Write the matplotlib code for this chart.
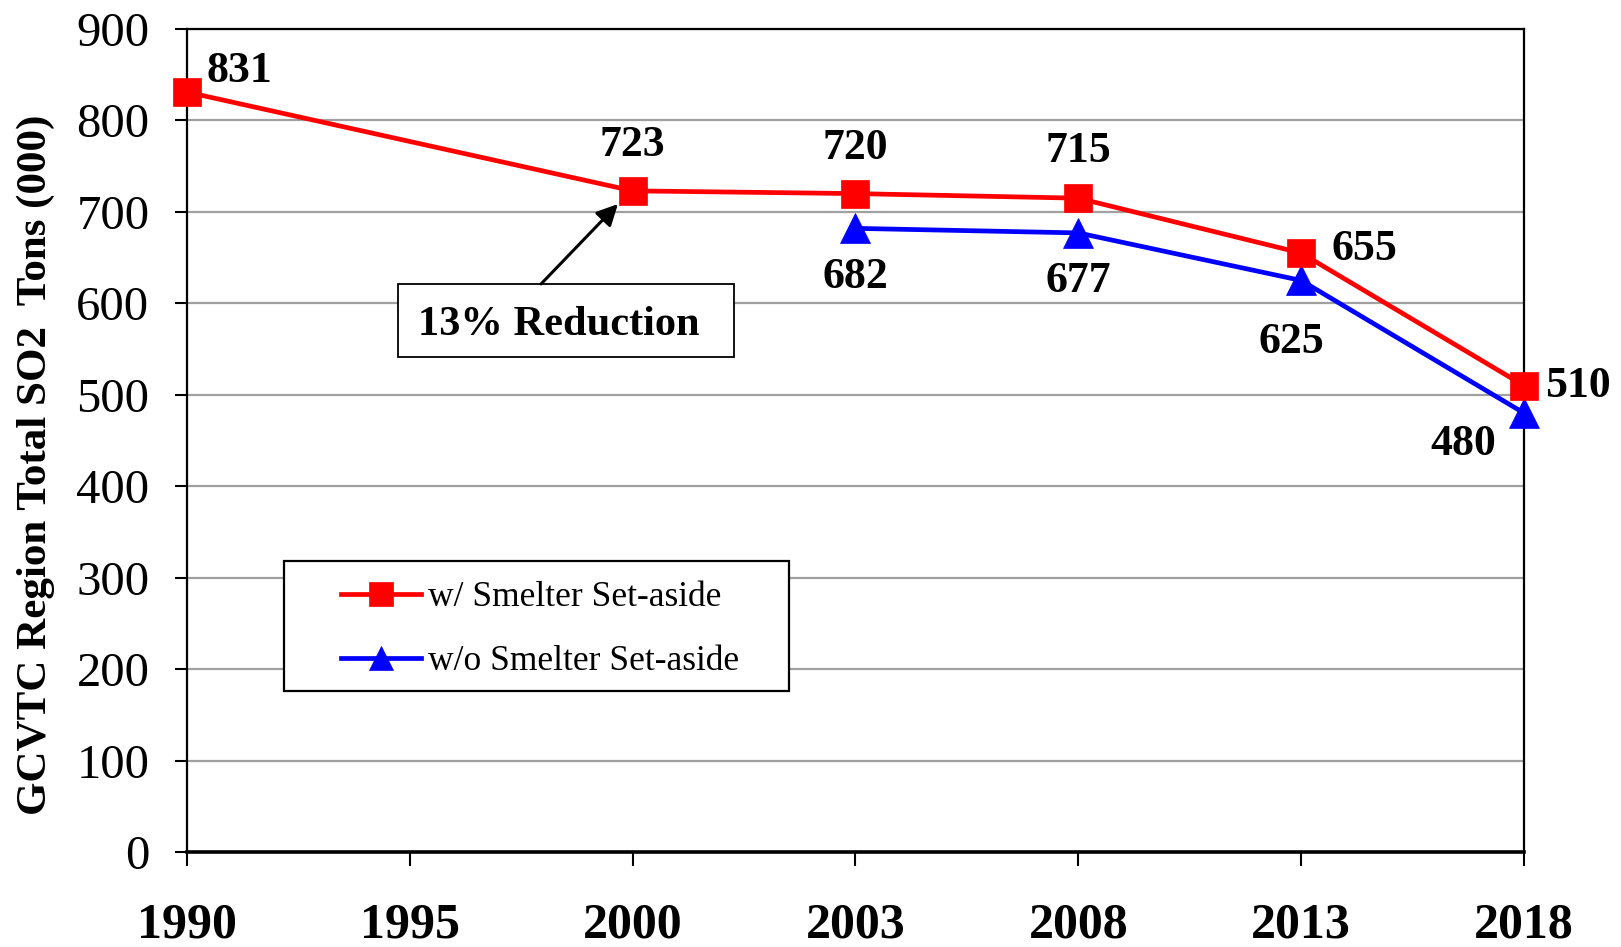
import matplotlib
matplotlib.use("Agg")
import matplotlib.pyplot as plt
from matplotlib.patches import Rectangle

years = ["1990", "1995", "2000", "2003", "2008", "2013", "2018"]
with_years = ["1990", "2000", "2003", "2008", "2013", "2018"]
with_vals = [831, 723, 720, 715, 655, 510]
without_years = ["2003", "2008", "2013", "2018"]
without_vals = [682, 677, 625, 480]
yticks = [0, 100, 200, 300, 400, 500, 600, 700, 800, 900]

plt.rcParams['font.family'] = ['Liberation Serif', 'DejaVu Serif']

fig = plt.figure(figsize=(16.21, 9.47), dpi=100)
ax = fig.add_axes([187/1621, 1-852/947, (1524-187)/1621, (852-29)/947])

xi = {y: i for i, y in enumerate(years)}
xw = [xi[y] for y in with_years]
xo = [xi[y] for y in without_years]

ax.plot(xw, with_vals, color='#FF0000', lw=3.4, marker='s', ms=20, mec='#FF0000',
        mew=0.5, label='w/ Smelter Set-aside', clip_on=False, zorder=4)
ax.plot(xo, without_vals, color='#0000FF', lw=3.4, marker='^', ms=21, mec='#0000FF',
        mew=0.5, label='w/o Smelter Set-aside', clip_on=False, zorder=3)

ax.set_xlim(0, len(years)-1)
ax.set_ylim(0, 900)
ax.set_xticks(range(len(years)))
ax.set_xticklabels(years, fontsize=36, fontweight='bold')
ax.set_yticks(yticks)
ax.set_yticklabels([str(v) for v in yticks], fontsize=35)
ax.tick_params(axis='x', direction='out', length=10, width=1.5, pad=26)
ax.tick_params(axis='y', direction='out', length=9, width=1.5, pad=18)

ax.yaxis.grid(True, color='#a0a0a0', lw=1.6)
ax.set_axisbelow(True)
for s in ['top', 'right', 'left']:
    ax.spines[s].set_linewidth(1.6)
    ax.spines[s].set_color('black')
ax.spines['bottom'].set_linewidth(2.6)
ax.spines['top'].set_zorder(5)

# data labels (offsets in pixels)
w_off = [(52, 21), (0, 46), (0, 46), (0, 47), (63, 4), (54, 0)]
o_off = [(0, -49), (0, -48), (-10, -62), (-61, -31)]
for x, v, off in zip(xw, with_vals, w_off):
    ax.annotate(str(v), (x, v), xytext=off, textcoords='offset pixels',
                ha='center', va='center', fontsize=31.5, fontweight='bold', zorder=6,
                annotation_clip=False)
for x, v, off in zip(xo, without_vals, o_off):
    ax.annotate(str(v), (x, v), xytext=off, textcoords='offset pixels',
                ha='center', va='center', fontsize=31.5, fontweight='bold', zorder=6,
                annotation_clip=False)

# annotation box
ax.add_patch(Rectangle((0.158, 0.601), 0.409-0.158, 0.690-0.601, transform=ax.transAxes,
                       facecolor='white', edgecolor='black', lw=1.3, zorder=5))
ax.text(0.2782, 0.640, "13% Reduction", transform=ax.transAxes, ha='center', va='center',
        fontsize=30.5, fontweight='bold', zorder=6)
ax.annotate("", xy=(1.934, 708.6), xytext=(1.589, 621.2),
            arrowprops=dict(arrowstyle='-|>', color='black', lw=2.2, mutation_scale=32,
                            shrinkA=0, shrinkB=0), zorder=6)

# legend
ax.add_patch(Rectangle((0.0726, 0.1956), 0.4503-0.0726, 0.3536-0.1956, transform=ax.transAxes,
                       facecolor='white', edgecolor='black', lw=1.6, zorder=5))
leg = ax.legend(loc='upper left', bbox_to_anchor=(0.1152, 0.329), frameon=False,
                fontsize=25.5, borderpad=0, borderaxespad=0, handlelength=2.25,
                handletextpad=0.2, labelspacing=0.87, markerscale=0.85)
leg.set_zorder(6)

fig.text(36/1621, 1-465/947, "GCVTC Region Total SO2  Tons (000)", rotation=90,
         ha='center', va='center', fontsize=31, fontweight='bold')

fig.savefig("out.png", dpi=100)
